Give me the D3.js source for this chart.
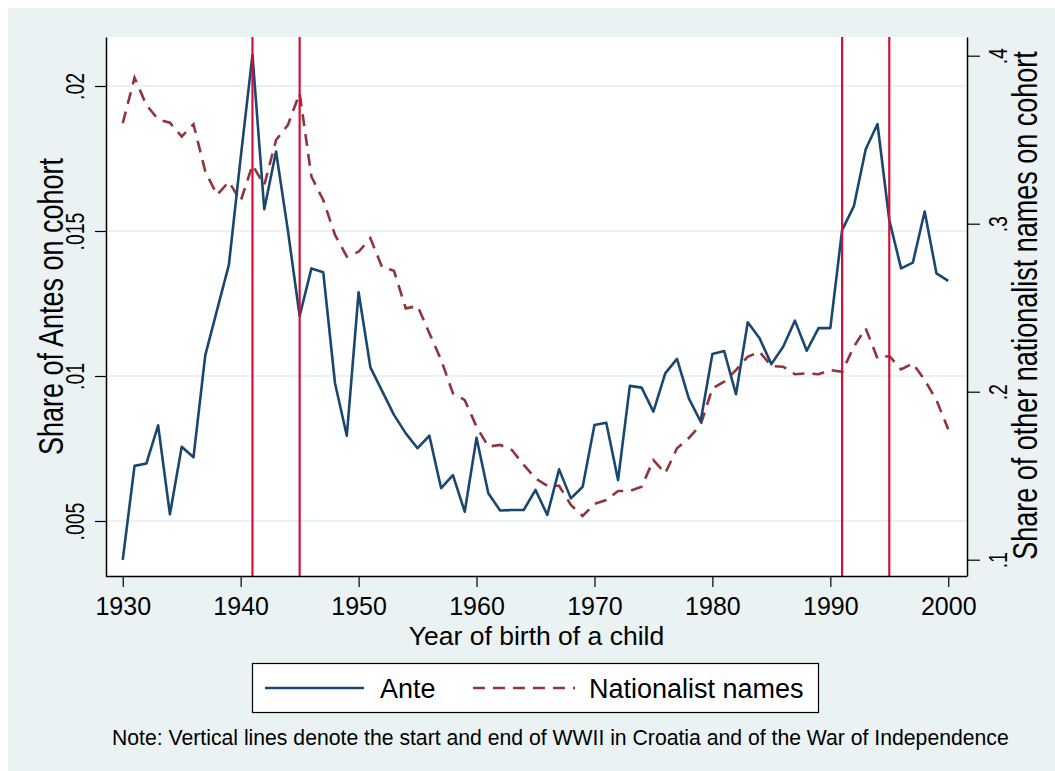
<!DOCTYPE html>
<html>
<head>
<meta charset="utf-8">
<script src="https://cdn.jsdelivr.net/npm/d3@7"></script>
<style>
  body { margin: 0; background: #ffffff; }
  svg { display: block; font-family: "Liberation Sans", Arial, sans-serif; }
</style>
</head>
<body>
<div id="chart"></div>
<script>
// Years of birth, 1930..2000
const years = d3.range(1930, 2001);

// Share of Antes on cohort (left axis)
const anteShare = [
  0.00366, 0.0069, 0.00698, 0.0083, 0.00523, 0.00756, 0.0072, 0.01072, 0.01228, 0.01383,
  0.01753, 0.02107, 0.01575, 0.01774, 0.01503, 0.01207, 0.01371, 0.01358, 0.00975, 0.00794,
  0.01289, 0.0103, 0.00948, 0.00866, 0.00802, 0.00751, 0.00794, 0.00613, 0.00658, 0.00532,
  0.00787, 0.00596, 0.00536, 0.00538, 0.00538, 0.00607, 0.00521, 0.00678, 0.00578, 0.00618,
  0.00831, 0.00839, 0.00641, 0.00966, 0.0096, 0.00877, 0.01009, 0.01059, 0.00923, 0.00843,
  0.01076, 0.01086, 0.00937, 0.01185, 0.0113, 0.01041, 0.01101, 0.01191, 0.01087, 0.01165,
  0.01165, 0.01503, 0.01586, 0.01782, 0.01869, 0.01538, 0.01371, 0.01391, 0.01567, 0.01354,
  0.01328
];

// Share of other nationalist names on cohort (right axis)
const nationalistShare = [
  0.3598, 0.3869, 0.3707, 0.3621, 0.3601, 0.3518, 0.3592, 0.331, 0.3171, 0.325,
  0.3135, 0.3349, 0.323, 0.3498, 0.3587, 0.3776, 0.328, 0.3141, 0.2933, 0.2804,
  0.2833, 0.2913, 0.274, 0.272, 0.2496, 0.251, 0.2348, 0.2189, 0.199, 0.195,
  0.1792, 0.1673, 0.1683, 0.1653, 0.1564, 0.1484, 0.144, 0.144, 0.1326, 0.126,
  0.1332, 0.1355, 0.1409, 0.1409, 0.1435, 0.1593, 0.1514, 0.1663, 0.1724, 0.1802,
  0.202, 0.206, 0.2129, 0.2208, 0.2238, 0.2153, 0.2149, 0.2104, 0.2109, 0.2104,
  0.2129, 0.2119, 0.2268, 0.2377, 0.2199, 0.2213, 0.2133, 0.2169, 0.207, 0.195,
  0.1776
];

// Start and end of WWII in Croatia and of the War of Independence
const eventYears = [1941, 1945, 1991, 1995];

const xTicks = [1930, 1940, 1950, 1960, 1970, 1980, 1990, 2000];
const leftTicks = [0.005, 0.01, 0.015, 0.02];
const leftTickLabels = ['.005', '.01', '.015', '.02'];
const rightTicks = [0.1, 0.2, 0.3, 0.4];
const rightTickLabels = ['.1', '.2', '.3', '.4'];

const W = 1055, H = 771;
const plot = {left: 106, right: 967, top: 37, bottom: 576};
// rotated labels in the reference are drawn taller across than along
const crossScale = 1.28;

const svg = d3.select('#chart').append('svg')
  .attr('width', W)
  .attr('height', H);

// Background
svg.append('rect').attr('x', 8).attr('y', 8)
  .attr('width', W - 8).attr('height', H - 8)
  .attr('fill', '#eaf2f3');
svg.append('rect')
  .attr('x', plot.left).attr('y', plot.top)
  .attr('width', plot.right - plot.left).attr('height', plot.bottom - plot.top)
  .attr('fill', '#ffffff');

// Scales
const x = d3.scaleLinear().domain([1928.58, 2001.59]).range([plot.left, plot.right]);
const yLeft = d3.scaleLinear()
  .domain([0.02 - (plot.bottom - 86) / 145 * 0.005, 0.02 + (86 - plot.top) / 145 * 0.005])
  .range([plot.bottom, plot.top]);
const yRight = d3.scaleLinear()
  .domain([0.1 - (plot.bottom - 559.7) / 1680, 0.4 + (55.7 - plot.top) / 1680])
  .range([plot.bottom, plot.top]);

// Grid lines at left-axis ticks
svg.append('g').selectAll('line')
  .data(leftTicks)
  .join('line')
  .attr('x1', plot.left).attr('x2', plot.right)
  .attr('y1', d => yLeft(d)).attr('y2', d => yLeft(d))
  .attr('stroke', '#eaf2f3')
  .attr('stroke-width', 2);

// Lines
const anteLine = d3.line()
  .x((d, i) => x(years[i]))
  .y(d => yLeft(d));
const natLine = d3.line()
  .x((d, i) => x(years[i]))
  .y(d => yRight(d));

svg.append('path')
  .datum(nationalistShare)
  .attr('d', natLine)
  .attr('fill', 'none')
  .attr('stroke', '#90353b')
  .attr('stroke-width', 2.6)
  .attr('stroke-dasharray', '12,8');

svg.append('path')
  .datum(anteShare)
  .attr('d', anteLine)
  .attr('fill', 'none')
  .attr('stroke', '#1a476f')
  .attr('stroke-width', 2.6)
  .attr('stroke-linejoin', 'round');

// Vertical event lines
svg.append('g').selectAll('line')
  .data(eventYears)
  .join('line')
  .attr('x1', d => x(d)).attr('x2', d => x(d))
  .attr('y1', plot.top).attr('y2', plot.bottom)
  .attr('stroke', '#d0103a')
  .attr('stroke-width', 2.2);

// Axes
const xAxis = d3.axisBottom(x).tickValues(xTicks).tickFormat(d3.format('d'))
  .tickSize(11).tickSizeOuter(0).tickPadding(10);
const gx = svg.append('g')
  .attr('transform', `translate(0,${plot.bottom})`)
  .call(xAxis);
gx.select('.domain').attr('d', `M${plot.left},0.5H${plot.right}`);

const leftAxis = d3.axisLeft(yLeft).tickValues(leftTicks)
  .tickFormat((d, i) => leftTickLabels[i])
  .tickSize(11).tickSizeOuter(0);
const gl = svg.append('g')
  .attr('transform', `translate(${plot.left},0)`)
  .call(leftAxis);

const rightAxis = d3.axisRight(yRight).tickValues(rightTicks)
  .tickFormat((d, i) => rightTickLabels[i])
  .tickSize(13).tickSizeOuter(0);
const gr = svg.append('g')
  .attr('transform', `translate(${plot.right},0)`)
  .call(rightAxis);

[gx, gl, gr].forEach(g => {
  g.select('.domain').attr('stroke', '#000').attr('stroke-width', 1.5);
  g.selectAll('.tick line').attr('stroke', '#000').attr('stroke-width', 1.2);
  g.selectAll('.tick text').attr('fill', '#000')
    .style('font-family', '"Liberation Sans", Arial, sans-serif');
});
gx.selectAll('.tick text').style('font-size', '25px');

// Rotated tick labels on the y axes
gl.selectAll('.tick text')
  .attr('x', null).attr('dy', null)
  .attr('text-anchor', 'middle')
  .style('font-size', '19.5px')
  .attr('transform', `translate(-22.5,0) rotate(-90) scale(1,${crossScale})`);
gr.selectAll('.tick text')
  .attr('x', null).attr('dy', null)
  .attr('text-anchor', 'middle')
  .style('font-size', '19.5px')
  .attr('transform', `translate(40,0) rotate(-90) scale(1,${crossScale})`);

// Axis titles
svg.append('text')
  .attr('x', (plot.left + plot.right) / 2).attr('y', 645)
  .attr('text-anchor', 'middle')
  .style('font-size', '26.5px')
  .text('Year of birth of a child');

svg.append('text')
  .attr('transform', `translate(63,${(plot.top + plot.bottom) / 2}) rotate(-90) scale(1,${crossScale})`)
  .attr('text-anchor', 'middle')
  .style('font-size', '27px')
  .text('Share of Antes on cohort');

svg.append('text')
  .attr('transform', `translate(1037,${(plot.top + plot.bottom) / 2 - 1}) rotate(-90) scale(1,${crossScale})`)
  .attr('text-anchor', 'middle')
  .style('font-size', '27px')
  .text('Share of other nationalist names on cohort');

// Legend
const legend = svg.append('g');
legend.append('rect')
  .attr('x', 252.5).attr('y', 663.5)
  .attr('width', 566).attr('height', 49)
  .attr('fill', '#fff')
  .attr('stroke', '#000')
  .attr('stroke-width', 1.2);

const legendItems = [
  {label: 'Ante', color: '#1a476f', dash: null, x0: 265, x1: 364, tx: 380},
  {label: 'Nationalist names', color: '#90353b', dash: '12,8', x0: 473, x1: 575, tx: 589}
];
legendItems.forEach(it => {
  legend.append('line')
    .attr('x1', it.x0).attr('x2', it.x1)
    .attr('y1', 688).attr('y2', 688)
    .attr('stroke', it.color)
    .attr('stroke-width', 2.6)
    .attr('stroke-dasharray', it.dash);
  legend.append('text')
    .attr('x', it.tx).attr('y', 698)
    .style('font-size', '27px')
    .text(it.label);
});

// Note
svg.append('text')
  .attr('x', 112).attr('y', 745)
  .style('font-size', '21.2px')
  .text('Note: Vertical lines denote the start and end of WWII in Croatia and of the War of Independence');
</script>
</body>
</html>
